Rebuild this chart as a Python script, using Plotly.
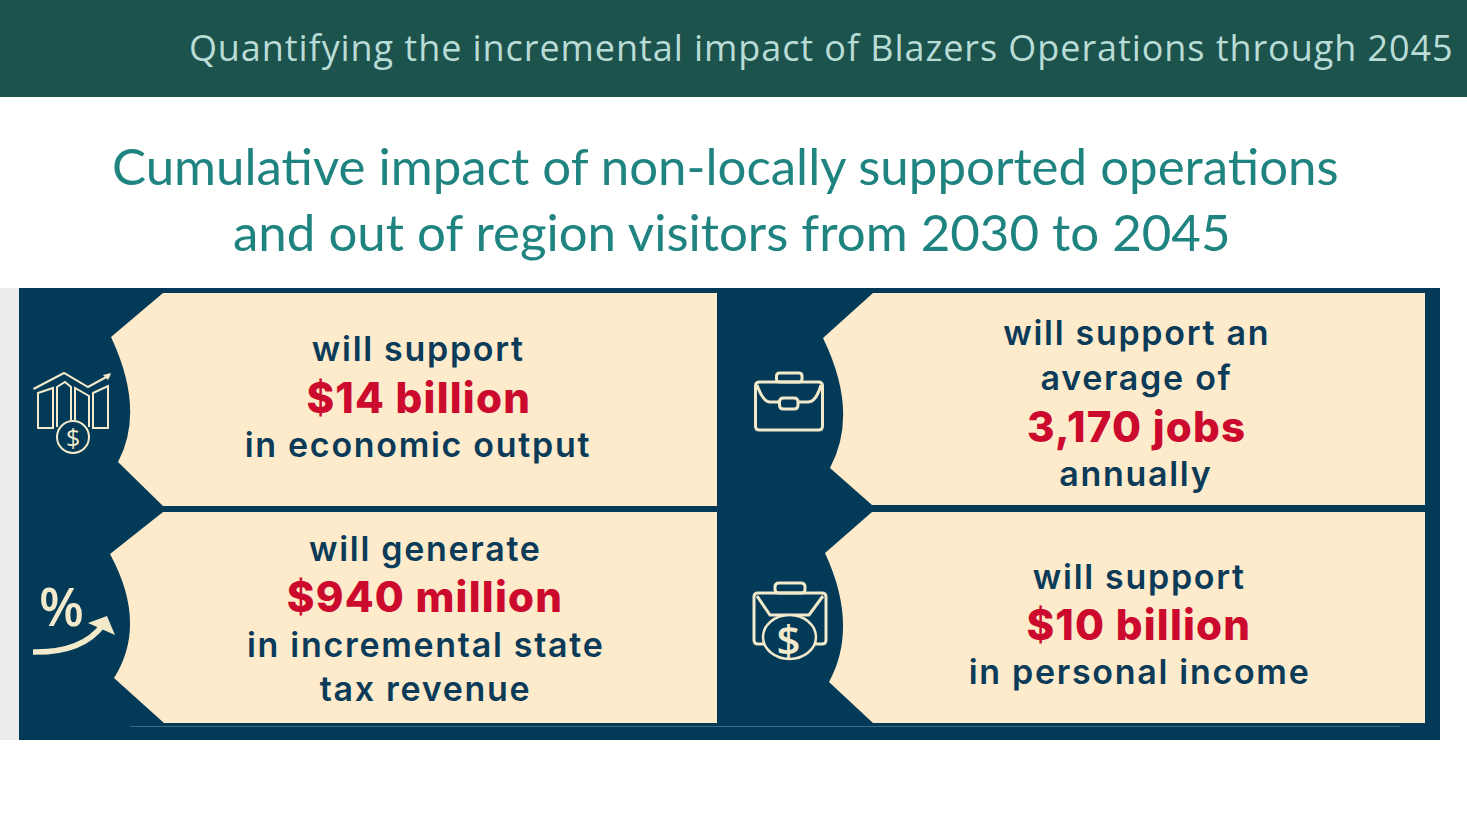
import json
import plotly.graph_objects as go

W, H = 1467, 825
NAVY = "#033a58"
CREAM = "#fdebcb"
ICON = "#f3e9cb"
RED = "#cc0a2d"
TEXT = "#0b3b58"
BODY_FONT = "Inter"
HEADER_SIZE, BODY_SIZE, RED_SIZE = 36, 34, 42
LETTER_SPACING = {str(HEADER_SIZE): 0.93, str(BODY_SIZE): 1.7, str(RED_SIZE): 1.2}

header_text = ["Quantifying the incremental impact of Blazers Operations through 2045"]
title_lines = ["Cumulative impact of non-locally supported operations",
               "and out of region visitors from 2030 to 2045"]
card1_lines = ["will support", "$14 billion", "in economic output"]
card2_lines = ["will generate", "$940 million", "in incremental state", "tax revenue"]
card3_lines = ["will support an", "average of", "3,170 jobs", "annually"]
card4_lines = ["will support", "$10 billion", "in personal income"]

shapes, notes = [], []


def fill(path, color, line=None, lw=0):
    shapes.append(dict(type="path", path=path, fillcolor=color, layer="above",
                       line=dict(color=line or color, width=lw)))


def stroke(path, width=2.5, color=ICON):
    shapes.append(dict(type="path", path=path, layer="above", fillcolor="rgba(0,0,0,0)",
                       line=dict(color=color, width=width)))


def rect(x0, y0, x1, y1, color):
    shapes.append(dict(type="rect", x0=x0, y0=y0, x1=x1, y1=y1, fillcolor=color,
                       layer="above", line=dict(width=0)))


def text(x, y, s, size, color, font=BODY_FONT, weight=400, anchor="center"):
    notes.append(dict(x=x, y=y, text=s, showarrow=False, xanchor=anchor, yanchor="middle",
                      font=dict(family=font, size=size, color=color, weight=weight)))


def card(top, n1, bulge, n2, bottom, right):
    cx = 2 * bulge[0] - 0.5 * (n1[0] + n2[0])
    cy = 2 * bulge[1] - 0.5 * (n1[1] + n2[1])
    path = (f"M{top[0]},{top[1]} L{right},{top[1]} L{right},{bottom[1]} L{bottom[0]},{bottom[1]} "
            f"L{n2[0]},{n2[1]} Q{cx},{cy} {n1[0]},{n1[1]} Z")
    fill(path, CREAM)


def rrect(x0, y0, x1, y1, r):
    return (f"M{x0+r},{y0} L{x1-r},{y0} Q{x1},{y0} {x1},{y0+r} L{x1},{y1-r} Q{x1},{y1} {x1-r},{y1} "
            f"L{x0+r},{y1} Q{x0},{y1} {x0},{y1-r} L{x0},{y0+r} Q{x0},{y0} {x0+r},{y0} Z")


# Header, backdrop
rect(0, 0, W, 97, "#1c534d")
rect(0, 288, 19, 740, "#ececec")
rect(19, 288, 1440, 740, NAVY)

# Cards
card((163, 293), (111, 337), (130, 405), (118, 462), (163, 506), 717)
card((163, 512), (110, 554), (130, 620), (114, 678), (164, 723), 717)
card((873, 293), (823, 338), (843, 408), (830, 468), (872, 505), 1425)
card((872, 512), (825, 553), (843, 622), (829, 682), (873, 723), 1425)
shapes.append(dict(type="line", x0=130, y0=726.5, x1=1400, y1=726.5, layer="above",
                   line=dict(color="#3a6a86", width=1)))

# Icon 1: bars, trend line and coin
stroke("M33.5,389 L64,373 L88,387 L110,375", 2)
fill("M103,375 L111,373 L108,380 Z", ICON)
stroke("M38,393 L53,388 L53,428 L38,428 Z", 2)
stroke("M57,427 L57,387 L65,382 L71,387 L71,420", 2)
stroke("M75,420 L75,388 L89,396 L89,427", 2)
stroke("M93,393 L108,386 L108,428 L93,428 Z", 2)
shapes.append(dict(type="circle", x0=57, y0=421, x1=89, y1=453, layer="above",
                   fillcolor=NAVY, line=dict(color=ICON, width=2)))
text(73, 437, "$", 25, ICON, "Open Sans")

# Icon 2: percent sign with rising arrow
text(61, 605, "%", 52, ICON, "Open Sans", 600)
stroke("M33,652 Q82,653 103,625", 5.5)
fill("M88,623 L107,616 L115,635 Z", ICON)

# Icon 3: briefcase
stroke(rrect(755.5, 382, 822.5, 430, 4), 3)
stroke(rrect(776.5, 373, 802, 382, 3), 3)
stroke("M757,385 Q763,402 770,402 L780,402 M798,402 L808,402 Q816,402 821,385", 3)
stroke(rrect(779.5, 398, 798, 409, 4), 3)

# Icon 4: briefcase with coin
stroke(rrect(754, 593, 826, 644, 4), 3)
stroke(rrect(775, 583, 805, 593, 4), 3)
stroke("M757,596 L770,615 L809,615 L823,596", 3)
shapes.append(dict(type="circle", x0=763, y0=615, x1=816, y1=659, layer="above",
                   fillcolor=NAVY, line=dict(color=ICON, width=2.5)))
text(789, 638, "$", 42, ICON, "Open Sans", 600)

# Headings
text(820.5, 47, header_text[0], HEADER_SIZE, "#b9dcd6", "Open Sans", 400)
text(725, 165, title_lines[0], 51, "#1f8480", "Lato")
text(732, 231, title_lines[1], 51, "#1f8480", "Lato")


def block(lines, x, ys, red):
    for i, (s, y) in enumerate(zip(lines, ys)):
        if i == red:
            text(x, y, s, RED_SIZE, RED, BODY_FONT, 800)
        else:
            text(x, y, s, BODY_SIZE, TEXT, BODY_FONT, 600)


block(card1_lines, 418, [348, 397, 444], 1)
block(card2_lines, 425, [548, 596, 644, 688], 1)
block(card3_lines, 1136, [332, 377, 426, 473], 2)
block(card4_lines, 1139, [576, 624, 671], 1)

fig = go.Figure()
fig.update_layout(
    width=W, height=H, margin=dict(l=0, r=0, t=0, b=0),
    paper_bgcolor="white", plot_bgcolor="white", showlegend=False,
    xaxis=dict(range=[0, W], visible=False, fixedrange=True),
    yaxis=dict(range=[H, 0], visible=False, fixedrange=True),
    shapes=shapes, annotations=notes,
)
post = (
    "document.body.style.margin='0';document.body.style.overflow='hidden';"
    f"var sp={json.dumps(LETTER_SPACING)};"
    "document.querySelectorAll('.annotation-text').forEach(function(t){"
    "var s=sp[String(parseInt(t.style.fontSize))];"
    "if(s!==undefined){t.style.letterSpacing=s+'px';}});"
)
fig.write_html("out.html", config={"displayModeBar": False}, post_script=post)
